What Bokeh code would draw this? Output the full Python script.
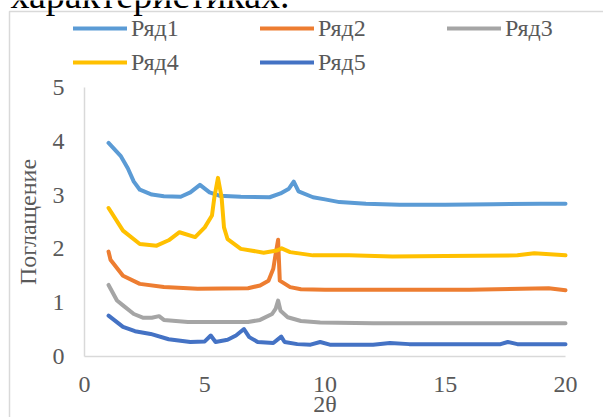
from bokeh.plotting import figure
from bokeh.models import (Range1d, LinearAxis, FixedTicker, Legend, LegendItem, Label)
from bokeh.embed import file_html
from bokeh.resources import INLINE

# ---- data ----
series_names = ["Ряд1", "Ряд2", "Ряд3", "Ряд4", "Ряд5"]
series_colors = ["#5B9BD5", "#ED7D31", "#A5A5A5", "#FFC000", "#4472C4"]

x1 = [1, 1.5, 1.8, 2.05, 2.3, 2.8, 3.3, 4.0, 4.4, 4.8, 5.2, 5.6, 6.5, 7.7, 8.15, 8.5, 8.7, 8.9, 9.5, 10.0, 10.6, 11.7, 13.1, 15, 17, 19, 20]
y1 = [3.97, 3.73, 3.5, 3.25, 3.1, 3.01, 2.98, 2.97, 3.05, 3.19, 3.05, 2.99, 2.97, 2.96, 3.03, 3.12, 3.25, 3.07, 2.96, 2.92, 2.87, 2.84, 2.82, 2.82, 2.83, 2.84, 2.84]

x2 = [1, 1.08, 1.6, 2.3, 3.3, 4.7, 6.8, 7.3, 7.65, 7.85, 7.95, 8.05, 8.12, 8.55, 9.0, 10, 13, 16, 19.3, 20]
y2 = [1.95, 1.80, 1.50, 1.35, 1.29, 1.26, 1.27, 1.32, 1.41, 1.63, 1.91, 2.17, 1.41, 1.29, 1.25, 1.24, 1.24, 1.24, 1.27, 1.23]

x3 = [1, 1.35, 1.6, 2.05, 2.45, 2.8, 3.1, 3.3, 4.3, 6.8, 7.3, 7.8, 7.95, 8.05, 8.15, 8.45, 9.0, 9.8, 12, 16, 20]
y3 = [1.33, 1.04, 0.95, 0.79, 0.72, 0.72, 0.75, 0.68, 0.64, 0.64, 0.68, 0.79, 0.89, 1.04, 0.85, 0.73, 0.66, 0.63, 0.62, 0.62, 0.62]

x4 = [1, 1.6, 2.3, 3.0, 3.5, 3.95, 4.6, 5.0, 5.3, 5.4, 5.55, 5.7, 5.8, 5.95, 6.5, 7.45, 8.0, 8.2, 8.55, 9.5, 11, 12.8, 15, 18.0, 18.7, 20]
y4 = [2.76, 2.34, 2.09, 2.06, 2.16, 2.31, 2.22, 2.40, 2.62, 2.96, 3.32, 2.96, 2.40, 2.18, 2.0, 1.93, 1.97, 2.01, 1.94, 1.88, 1.88, 1.86, 1.87, 1.88, 1.92, 1.88]

x5 = [1, 1.6, 2.1, 2.75, 3.5, 4.4, 5.0, 5.25, 5.45, 5.95, 6.3, 6.63, 6.85, 7.2, 7.85, 8.18, 8.32, 8.85, 9.4, 9.8, 10.2, 12.0, 12.7, 13.5, 17.3, 17.6, 18.0, 20]
y5 = [0.76, 0.55, 0.47, 0.42, 0.32, 0.27, 0.28, 0.39, 0.27, 0.31, 0.39, 0.51, 0.36, 0.27, 0.25, 0.37, 0.27, 0.23, 0.22, 0.27, 0.22, 0.22, 0.25, 0.23, 0.23, 0.27, 0.23, 0.23]

x_ticks = [0, 5, 10, 15, 20]
y_ticks = [0, 1, 2, 3, 4, 5]
x_title = "2θ"
y_title = "Поглащение"
doc_text = "характеристиках."

FONT = "Liberation Serif"
TICK_COLOR = "#595959"
AXIS_COLOR = "#D9D9D9"

W, H = 603, 417
# pixel placement of the data area inside the canvas
PX_L, PX_R, PX_T, PX_B = 84, 565, 87, 356
x_lo, x_hi = x_ticks[0], x_ticks[-1]
y_lo, y_hi = y_ticks[0], y_ticks[-1]
sx = (x_hi - x_lo) / (PX_R - PX_L)
sy = (y_hi - y_lo) / (PX_B - PX_T)
x0 = x_lo - PX_L * sx
y0 = y_lo - (H - PX_B) * sy
x_range = Range1d(x0, x_hi + (W - PX_R) * sx)
y_range = Range1d(y0, y_hi + PX_T * sy)

def px2x(px):
    return x0 + px * sx

def py2y(py):
    return y0 + (H - py) * sy

p = figure(width=W, height=H, output_backend="svg", toolbar_location=None,
           x_range=x_range, y_range=y_range,
           x_axis_location=None, y_axis_location=None,
           min_border=0, min_border_left=0, min_border_right=0,
           min_border_top=0, min_border_bottom=0)
p.outline_line_color = None
p.grid.visible = False
p.background_fill_color = "white"
p.border_fill_color = "white"

# chart area border (Excel chart frame; runs past the window on right and bottom)
p.line([px2x(9), px2x(9), px2x(W + 10)], [py2y(H + 10), py2y(11), py2y(11)],
       line_color=AXIS_COLOR, line_width=1.5)

def style_axis(ax):
    ax.major_tick_line_color = None
    ax.minor_tick_line_color = None
    ax.axis_line_color = AXIS_COLOR
    ax.axis_line_width = 1.5
    ax.major_label_text_font = FONT
    ax.major_label_text_font_size = "24px"
    ax.major_label_text_color = TICK_COLOR
    ax.axis_label_text_font = FONT
    ax.axis_label_text_font_size = "24px"
    ax.axis_label_text_color = TICK_COLOR
    ax.axis_label_text_font_style = "normal"

xaxis = LinearAxis(ticker=FixedTicker(ticks=x_ticks), axis_label=x_title,
                   fixed_location=y_lo, bounds=(x_lo, x_hi))
style_axis(xaxis)
xaxis.major_label_standoff = 14
xaxis.axis_label_standoff = -4
p.add_layout(xaxis, "below")

yaxis = LinearAxis(ticker=FixedTicker(ticks=y_ticks), axis_label=y_title,
                   fixed_location=x_lo, bounds=(y_lo, y_hi))
style_axis(yaxis)
yaxis.major_label_standoff = 14
yaxis.axis_label_standoff = 9
p.add_layout(yaxis, "left")

xs = [x1, x2, x3, x4, x5]
ys = [y1, y2, y3, y4, y5]
renderers = []
for xv, yv, c in zip(xs, ys, series_colors):
    r = p.line(xv, yv, line_color=c, line_width=4, line_join="round", line_cap="round")
    renderers.append(r)

# legend: row 1 -> Ряд1, Ряд2, Ряд3 ; row 2 -> Ряд4, Ряд5
items = [LegendItem(label=n, renderers=[r]) for n, r in zip(series_names, renderers)]
legend = Legend(items=items, location=(73, H - 79), orientation="horizontal", ncols=3,
                glyph_width=54, glyph_height=34, label_height=34, label_width=129,
                label_standoff=4, spacing=0, padding=0, margin=0,
                border_line_color=None, background_fill_alpha=0,
                label_text_font=FONT, label_text_font_size="24px",
                label_text_color=TICK_COLOR)
p.add_layout(legend)

# fragment of document text above the chart (cut by the window's top edge, as in the source)
lbl = Label(x=10, y=-6, x_units="canvas", y_units="canvas", text=doc_text,
            text_font=FONT, text_font_size="38px", text_color="black",
            text_baseline="alphabetic")
p.add_layout(lbl)

open("out.html", "w").write(file_html(p, INLINE))
